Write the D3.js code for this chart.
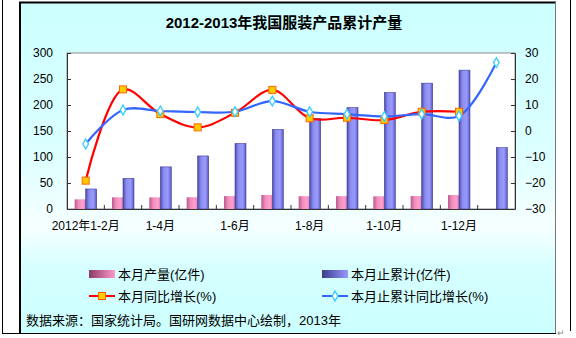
<!DOCTYPE html>
<html>
<head>
<meta charset="utf-8">
<script src="https://cdn.jsdelivr.net/npm/d3@7/dist/d3.min.js"></script>
<style>
  html, body { margin: 0; padding: 0; background: #fff; }
  svg { display: block; font-family: "Liberation Sans", Arial, "Noto Sans CJK SC", sans-serif; }
</style>
</head>
<body>
<svg id="chart" width="576" height="338"></svg>
<script>
// Categories (cumulative periods)
const categories = ["2012年1-2月", "1-3月", "1-4月", "1-5月", "1-6月", "1-7月",
                    "1-8月", "1-9月", "1-10月", "1-11月", "1-12月", "2013年1-2月"];
// Category labels shown on the x axis (every other period)
const tickLabels = ["2012年1-2月", "", "1-4月", "", "1-6月", "", "1-8月", "", "1-10月", "", "1-12月", ""];

// Output for the month (亿件)
const monthOutput = [18.6, 22.5, 22.4, 22.6, 24.8, 27.0, 24.6, 24.7, 24.5, 24.9, 26.8, null];
// Cumulative output to date (亿件)
const cumOutput = [38.5, 59, 81, 102, 126, 153, 174, 195, 224, 242, 267, 118];
// Month-on-year growth (%)
const monthGrowth = [-19.1, 16.0, 6.5, 1.4, 7.0, 15.8, 4.9, 5.1, 4.2, 7.4, 7.4, null];
// Cumulative year-on-year growth (%)
const cumGrowth = [-5.0, 8.1, 7.7, 7.3, 7.4, 11.5, 7.4, 6.5, 5.6, 6.5, 5.8, 26.3];

const leftTicks = [0, 50, 100, 150, 200, 250, 300];
const rightTicks = [-30, -20, -10, 0, 10, 20, 30];

const seriesNames = ["本月产量(亿件)", "本月止累计(亿件)", "本月同比增长(%)", "本月止累计同比增长(%)"];
const titleText = "2012-2013年我国服装产品累计产量";
const sourceText = "数据来源：国家统计局。国研网数据中心绘制，2013年";

const svg = d3.select("#chart");
const defs = svg.append("defs");

// Background of the chart panel
const bg = defs.append("linearGradient").attr("id", "bgGrad")
  .attr("x1", 0).attr("y1", 0).attr("x2", 0).attr("y2", 1);
[[0, "#ccffff"], [0.45, "#dcffff"], [0.68, "#f6ffff"], [0.8, "#d6ffff"], [1, "#ccffff"]]
  .forEach(([o, c]) => bg.append("stop").attr("offset", o).attr("stop-color", c));

// Bar shading
function barGrad(id, stops) {
  const g = defs.append("linearGradient").attr("id", id)
    .attr("x1", 0).attr("y1", 0).attr("x2", 1).attr("y2", 0);
  stops.forEach(([o, c]) => g.append("stop").attr("offset", o).attr("stop-color", c));
}
barGrad("pinkGrad", [[0, "#b85a8a"], [0.35, "#f08cbc"], [0.75, "#ff9fcc"], [1, "#e080b0"]]);
barGrad("blueGrad", [[0, "#4a4aa8"], [0.3, "#8c8cf0"], [0.7, "#9a9aff"], [1, "#5a5ab8"]]);
barGrad("pinkKey", [[0, "#8a3a66"], [1, "#ff99cc"]]);
barGrad("blueKey", [[0, "#3a3a90"], [1, "#9a9aff"]]);

// Page frame
svg.append("line").attr("x1", 2.5).attr("y1", 0).attr("x2", 2.5).attr("y2", 334).attr("stroke", "#000");
svg.append("line").attr("x1", 570.5).attr("y1", 0).attr("x2", 570.5).attr("y2", 331).attr("stroke", "#000");
svg.append("line").attr("x1", 2).attr("y1", 333.5).attr("x2", 556).attr("y2", 333.5).attr("stroke", "#000");

// Chart panel
svg.append("rect").attr("x", 19.5).attr("y", 2).attr("width", 536).attr("height", 331)
  .attr("fill", "url(#bgGrad)").attr("stroke", "none");
svg.append("line").attr("x1", 20).attr("y1", 2).attr("x2", 20).attr("y2", 333).attr("stroke", "#000").attr("stroke-width", 2);
svg.append("line").attr("x1", 19).attr("y1", 2.5).attr("x2", 556).attr("y2", 2.5).attr("stroke", "#000").attr("stroke-width", 2);
svg.append("line").attr("x1", 555.5).attr("y1", 2).attr("x2", 555.5).attr("y2", 333).attr("stroke", "#777");

// Title
svg.append("text").attr("x", 284).attr("y", 28).attr("text-anchor", "middle")
  .attr("font-size", 15).attr("font-weight", "bold").attr("fill", "#000").text(titleText);

// Plot area
const plot = { left: 67, right: 515, top: 53, bottom: 209 };

const x = d3.scaleBand().domain(categories).range([plot.left, plot.right]);
const yL = d3.scaleLinear().domain([0, 300]).range([plot.bottom, plot.top]);
const yR = d3.scaleLinear().domain([-30, 30]).range([plot.bottom, plot.top]);

svg.append("rect").attr("x", plot.left).attr("y", plot.top)
  .attr("width", plot.right - plot.left).attr("height", plot.bottom - plot.top)
  .attr("fill", "#fff").attr("stroke", "#8c8c8c");

// Bars
const barW = 11;
svg.append("g").selectAll("rect")
  .data(categories.map((c, i) => ({ c, v: monthOutput[i] })).filter(d => d.v != null))
  .join("rect")
  .attr("x", d => x(d.c) + x.bandwidth() / 2 - barW)
  .attr("y", d => yL(d.v))
  .attr("width", barW)
  .attr("height", d => yL(0) - yL(d.v))
  .attr("fill", "url(#pinkGrad)");

svg.append("g").selectAll("rect")
  .data(categories.map((c, i) => ({ c, v: cumOutput[i] })))
  .join("rect")
  .attr("x", d => x(d.c) + x.bandwidth() / 2)
  .attr("y", d => yL(d.v))
  .attr("width", barW)
  .attr("height", d => yL(0) - yL(d.v))
  .attr("fill", "url(#blueGrad)")
  .attr("stroke", "#4040a0").attr("stroke-width", 0.6);

// Axes (ticks point into the plot)
const axL = d3.axisLeft(yL).tickValues(leftTicks).tickSizeInner(-4).tickSizeOuter(0).tickPadding(14);
const gL = svg.append("g").attr("transform", `translate(${plot.left},0)`).call(axL);
const axR = d3.axisRight(yR).tickValues(rightTicks).tickSizeInner(-4).tickSizeOuter(0).tickPadding(10);
const gR = svg.append("g").attr("transform", `translate(${plot.right},0)`).call(axR);
const axB = d3.axisBottom(x).tickFormat((d, i) => tickLabels[i]).tickSize(0).tickPadding(12);
const gB = svg.append("g").attr("transform", `translate(0,${plot.bottom})`).call(axB);

[gL, gR, gB].forEach(g => {
  g.selectAll(".domain").attr("stroke", "#333");
  g.selectAll(".tick line").attr("stroke", "#333");
  g.selectAll("text").attr("font-size", 12).attr("fill", "#000")
    .attr("font-family", '"Liberation Sans", Arial, "Noto Sans CJK SC", sans-serif');
});
gR.selectAll(".tick text").attr("text-anchor", "start");

// Category boundary tick marks on the x axis
svg.append("g").selectAll("line")
  .data(categories.slice(1))
  .join("line")
  .attr("x1", d => x(d)).attr("x2", d => x(d))
  .attr("y1", plot.bottom).attr("y2", plot.bottom - 4)
  .attr("stroke", "#333");

// Lines (smoothed)
const cx = c => x(c) + x.bandwidth() / 2;
const line = d3.line().defined(d => d.v != null)
  .x(d => cx(d.c)).y(d => yR(d.v)).curve(d3.curveCatmullRom.alpha(0.5));

const redData = categories.map((c, i) => ({ c, v: monthGrowth[i] }));
const blueData = categories.map((c, i) => ({ c, v: cumGrowth[i] }));

svg.append("path").datum(redData).attr("d", line)
  .attr("fill", "none").attr("stroke", "#ff0000").attr("stroke-width", 2.2);
svg.append("path").datum(blueData).attr("d", line)
  .attr("fill", "none").attr("stroke", "#3366ff").attr("stroke-width", 2.2);

svg.append("g").selectAll("rect")
  .data(redData.filter(d => d.v != null))
  .join("rect")
  .attr("x", d => cx(d.c) - 3.5).attr("y", d => yR(d.v) - 3.5)
  .attr("width", 7).attr("height", 7)
  .attr("fill", "#ffcc00").attr("stroke", "#ff6600").attr("stroke-width", 1);

const diamond = d3.symbol().type(d3.symbolDiamond).size(28);
svg.append("g").selectAll("path")
  .data(blueData)
  .join("path")
  .attr("transform", d => `translate(${cx(d.c)},${yR(d.v)})`)
  .attr("d", diamond)
  .attr("fill", "#ffffff").attr("stroke", "#33ccff").attr("stroke-width", 1.3);

// Legend
const legend = svg.append("g").attr("font-size", 13).attr("fill", "#000");
const keys = [
  { x: 89, y: 274, type: "bar", fill: "url(#pinkKey)", name: seriesNames[0] },
  { x: 322, y: 274, type: "bar", fill: "url(#blueKey)", name: seriesNames[1] },
  { x: 89, y: 296, type: "lineSq", name: seriesNames[2] },
  { x: 322, y: 296, type: "lineDia", name: seriesNames[3] }
];
keys.forEach(k => {
  if (k.type === "bar") {
    legend.append("rect").attr("x", k.x).attr("y", k.y - 4).attr("width", 26).attr("height", 8).attr("fill", k.fill);
  } else if (k.type === "lineSq") {
    legend.append("line").attr("x1", k.x).attr("x2", k.x + 26).attr("y1", k.y).attr("y2", k.y)
      .attr("stroke", "#ff0000").attr("stroke-width", 2);
    legend.append("rect").attr("x", k.x + 9.5).attr("y", k.y - 3.5).attr("width", 7).attr("height", 7)
      .attr("fill", "#ffcc00").attr("stroke", "#ff6600");
  } else {
    legend.append("line").attr("x1", k.x).attr("x2", k.x + 26).attr("y1", k.y).attr("y2", k.y)
      .attr("stroke", "#3366ff").attr("stroke-width", 2);
    legend.append("path").attr("transform", `translate(${k.x + 13},${k.y})`).attr("d", diamond)
      .attr("fill", "#fff").attr("stroke", "#33ccff").attr("stroke-width", 1.3);
  }
  legend.append("text").attr("x", k.x + 29).attr("y", k.y + 5).text(k.name);
});

// Source note
svg.append("text").attr("x", 26).attr("y", 325).attr("font-size", 13).attr("fill", "#000").text(sourceText);

// Paragraph mark
svg.append("text").attr("x", 557).attr("y", 336).attr("font-size", 9).attr("fill", "#888").text("↵");
</script>
</body>
</html>
